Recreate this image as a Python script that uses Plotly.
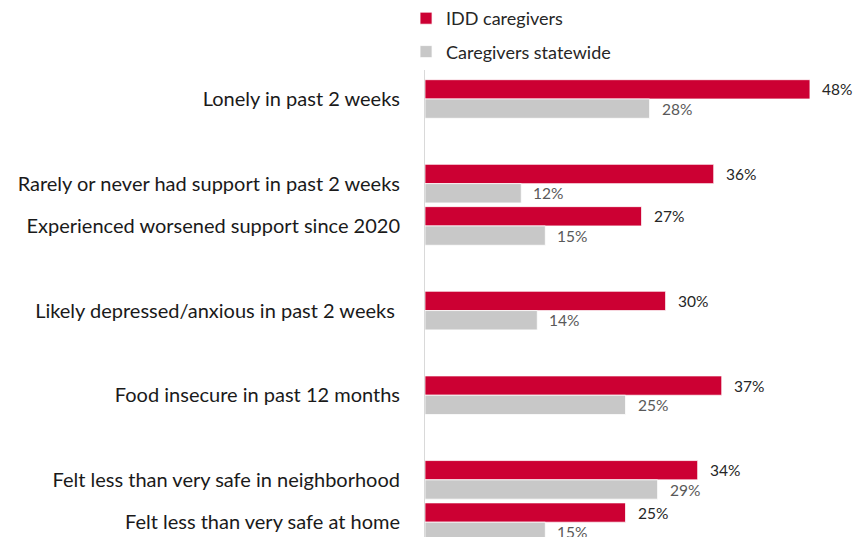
import plotly.graph_objects as go

categories = [
    "Lonely in past 2 weeks",
    "Rarely or never had support in past 2 weeks",
    "Experienced worsened support since 2020",
    "Likely depressed/anxious in past 2 weeks ",
    "Food insecure in past 12 months",
    "Felt less than very safe in neighborhood",
    "Felt less than very safe at home",
]
idd_caregivers = [48, 36, 27, 30, 37, 34, 25]
caregivers_statewide = [28, 12, 15, 14, 25, 29, 15]
series_names = ["IDD caregivers", "Caregivers statewide"]

# layout: row slots (blank slots create the visual gaps)
slots = [0, 2, 3, 5, 7, 9, 10]

RED = "#CC0033"
GREY = "#C8C8C8"
FONT = "Lato"

fig = go.Figure()
fig.add_trace(go.Bar(
    y=slots, x=idd_caregivers, orientation="h", name=series_names[0],
    marker=dict(color=RED, line=dict(color="white", width=0.75)),
    legendgroup="a", hoverinfo="skip",
))
fig.add_trace(go.Bar(
    y=slots, x=caregivers_statewide, orientation="h", name=series_names[1],
    marker=dict(color=GREY, line=dict(color="white", width=0.75)),
    legendgroup="b", hoverinfo="skip",
))

annotations = []
for s, v in zip(slots, idd_caregivers):
    annotations.append(dict(x=v, y=s - 0.228, xref="x", yref="y", text=f"{v}%",
                            showarrow=False, xanchor="left", xshift=10,
                            font=dict(family=FONT, size=15.5, color="#262626")))
for s, v in zip(slots, caregivers_statewide):
    annotations.append(dict(x=v, y=s + 0.228, xref="x", yref="y", text=f"{v}%",
                            showarrow=False, xanchor="left", xshift=10,
                            font=dict(family=FONT, size=15.5, color="#595959")))

fig.update_layout(
    width=856, height=537,
    margin=dict(l=425, r=0, t=70, b=0),
    paper_bgcolor="white", plot_bgcolor="white",
    barmode="group", bargap=0.088, bargroupgap=0,
    font=dict(family=FONT, size=18, color="#1a1a1a"),
    xaxis=dict(range=[0, 53.74], showgrid=False, zeroline=False,
               showticklabels=False, showline=False, fixedrange=True),
    yaxis=dict(range=[10.35, -0.685], tickvals=slots, ticktext=categories,
               showgrid=False, zeroline=False, showline=True,
               linecolor="#D9D9D9", linewidth=1, ticks="",
               ticklabelstandoff=20,
               tickfont=dict(family=FONT, size=20, color="#1a1a1a")),
    legend=dict(x=-0.044, xanchor="left", y=1.15, yanchor="top",
                traceorder="grouped", tracegroupgap=7,
                font=dict(family=FONT, size=18, color="#262626"),
                bgcolor="rgba(0,0,0,0)"),
    annotations=annotations,
)

fig.write_html("out.html")
